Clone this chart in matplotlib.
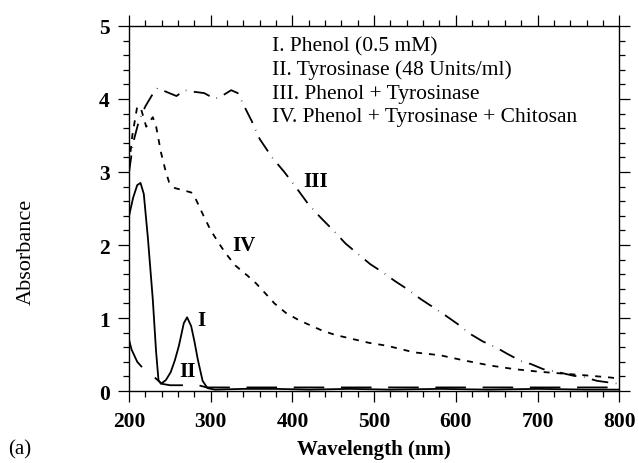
import matplotlib
matplotlib.use("Agg")
from matplotlib import pyplot as plt
from matplotlib.ticker import MultipleLocator

plt.rcParams['font.family'] = ['Liberation Serif', 'DejaVu Serif']
plt.rcParams['lines.scale_dashes'] = False

# curve I  - phenol (solid)
wl_1 = [200, 205, 210, 214, 218, 223, 229, 233, 236, 239, 245, 251, 256, 261, 267, 271,
        276, 280, 284, 290, 296, 305, 340, 380, 420, 470, 520, 580, 640, 700, 760, 800]
abs_1 = [2.40, 2.65, 2.82, 2.85, 2.70, 2.10, 1.26, 0.55, 0.15, 0.10, 0.15, 0.26, 0.42, 0.62, 0.93, 1.01,
         0.89, 0.68, 0.44, 0.14, 0.04, 0.02, 0.03, 0.03, 0.02, 0.03, 0.02, 0.03, 0.02, 0.03, 0.02, 0.02]

# curve II - tyrosinase
wl_2 = [200, 203, 210, 218, 225, 232, 240, 250, 270, 285, 295, 320, 400, 500, 600, 700, 800]
abs_2 = [0.70, 0.57, 0.40, 0.30, 0.25, 0.18, 0.10, 0.08, 0.08, 0.08, 0.05, 0.05, 0.05, 0.05, 0.05, 0.05, 0.05]

# curve III - phenol + tyrosinase
wl_3 = [200, 205, 212, 220, 228, 235, 245, 258, 268, 278, 292, 305, 315, 325, 333, 341, 350,
        360, 375, 390, 405, 420, 435, 450, 465, 480, 495, 510, 525, 540, 557, 572, 588, 602,
        618, 633, 649, 663, 680, 692, 707, 725, 744, 757, 773, 786, 800]
abs_3 = [3.00, 3.40, 3.70, 3.90, 4.05, 4.15, 4.10, 4.04, 4.12, 4.10, 4.08, 4.00, 4.05, 4.12, 4.08, 3.90, 3.70,
         3.45, 3.20, 3.00, 2.78, 2.55, 2.37, 2.20, 2.02, 1.88, 1.74, 1.63, 1.51, 1.40, 1.26, 1.15, 1.03, 0.92,
         0.78, 0.68, 0.60, 0.51, 0.41, 0.37, 0.30, 0.26, 0.21, 0.19, 0.14, 0.12, 0.10]

# curve IV - phenol + tyrosinase + chitosan
wl_4 = [200, 204, 210, 215, 221, 229, 233, 239, 245, 249, 256, 266, 276, 282, 292, 300, 309,
        318, 330, 345, 355, 365, 378, 392, 408, 422, 436, 452, 471, 494, 516, 549, 581, 610,
        642, 672, 702, 736, 765, 790, 800]
abs_4 = [3.10, 3.50, 3.90, 3.85, 3.62, 3.75, 3.63, 3.27, 3.00, 2.86, 2.78, 2.75, 2.72, 2.62, 2.38, 2.20, 2.04,
         1.89, 1.72, 1.58, 1.48, 1.36, 1.20, 1.07, 0.97, 0.90, 0.83, 0.77, 0.72, 0.66, 0.62, 0.53, 0.49, 0.42,
         0.35, 0.30, 0.265, 0.235, 0.21, 0.185, 0.17]

legend_lines = ["I. Phenol (0.5 mM)",
                "II. Tyrosinase (48 Units/ml)",
                "III. Phenol + Tyrosinase",
                "IV. Phenol + Tyrosinase + Chitosan"]

curve_labels = ["I", "II", "III", "IV"]
label_x = [289, 272, 428, 340]
label_y = [0.98, 0.28, 2.87, 2.00]


fig = plt.figure(figsize=(6.39, 4.64), dpi=100)
ax = fig.add_axes([0.202, 0.155, 0.767, 0.787])

ax.plot(wl_1, abs_1, color='black', lw=1.3)
ax.plot(wl_2, abs_2, color='black', lw=1.3, dashes=(22, 12))
ax.plot(wl_3, abs_3, color='black', lw=1.3, dashes=(12, 5.5, 0.4, 5.5))
ax.plot(wl_4, abs_4, color='black', lw=1.3, dashes=(4.3, 5))

ax.set_xlim(200, 800)
ax.set_ylim(0, 5)
ax.xaxis.set_major_locator(MultipleLocator(100))
ax.xaxis.set_minor_locator(MultipleLocator(20))
ax.yaxis.set_major_locator(MultipleLocator(1))
ax.yaxis.set_minor_locator(MultipleLocator(0.2))
ax.tick_params(which='both', direction='out', top=True, right=True, width=0.9)
ax.tick_params(which='major', length=8, pad=6, labelsize=15.5)
ax.tick_params(which='minor', length=4)
for lab in ax.get_xticklabels() + ax.get_yticklabels():
    lab.set_fontweight('bold')
for sp in ax.spines.values():
    sp.set_linewidth(1.0)

ax.set_xlabel("Wavelength (nm)", fontsize=15, fontweight='bold', labelpad=6)
fig.text(0.041, 0.457, "Absorbance", fontsize=16, rotation=90, ha='center', va='center')
fig.text(0.013, 0.02, "(a)", fontsize=15, ha='left', va='baseline')

for i, line in enumerate(legend_lines):
    ax.text(375, 4.73 - 0.325 * i, line, fontsize=15.5, ha='left', va='center')

for t, x, y in zip(curve_labels, label_x, label_y):
    ax.text(x, y, t, fontsize=15, fontweight='bold', ha='center', va='center')

fig.savefig("out.png", dpi=100)
